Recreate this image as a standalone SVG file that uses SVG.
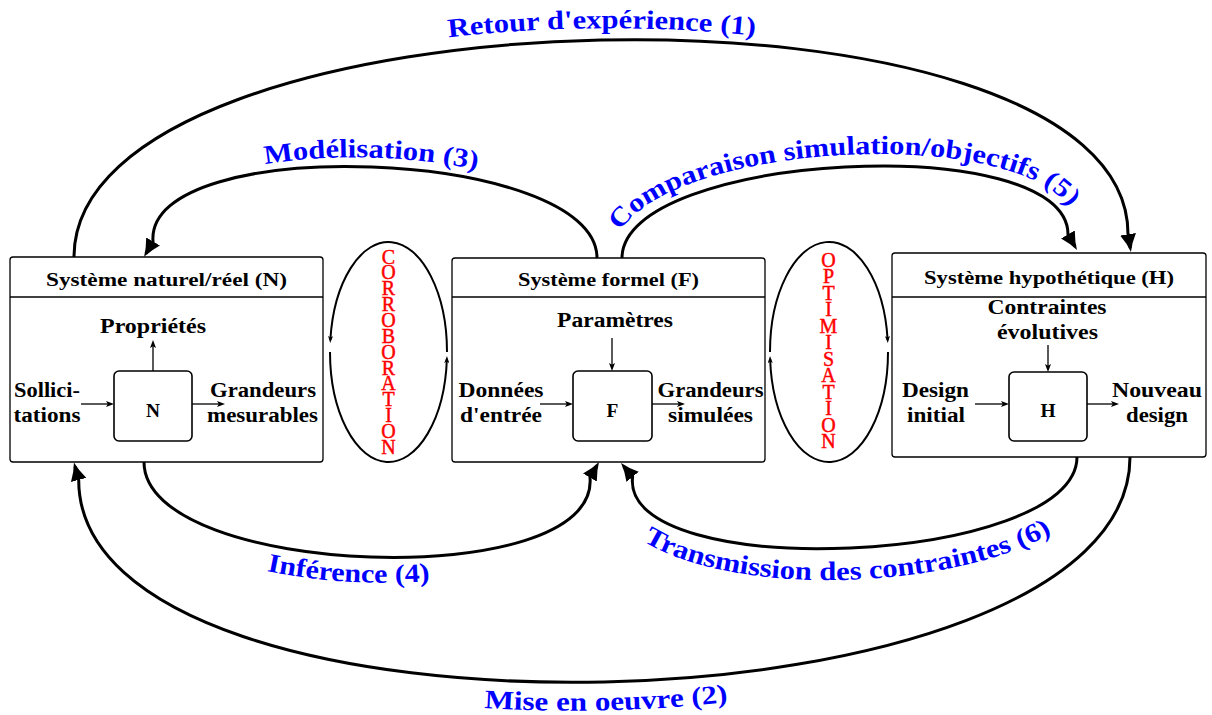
<svg xmlns="http://www.w3.org/2000/svg" width="1212" height="715" viewBox="0 0 1212 715">
<style>
.box{fill:#fff;stroke:#000;stroke-width:1.3}
.inner{fill:#fff;stroke:#000;stroke-width:1.6}
.sep{stroke:#000;stroke-width:1.3}
.t{font-family:"Liberation Serif","Times New Roman",serif;font-weight:bold;fill:#000;text-anchor:middle}
.title{font-size:19.4px}
.lbl{font-size:20.7px}
.blue{font-family:"Liberation Serif","Times New Roman",serif;font-weight:bold;font-size:26.5px;fill:#0000ff}
.red{font-family:"Liberation Serif","Times New Roman",serif;font-size:20px;fill:#ff0000;stroke:#ff0000;stroke-width:0.45;writing-mode:vertical-rl;text-orientation:upright}
.arc{fill:none;stroke:#000;stroke-width:3;marker-end:url(#big)}
.ell{fill:none;stroke:#000;stroke-width:2;marker-end:url(#mid)}
.thin{fill:none;stroke:#000;stroke-width:1.3;marker-end:url(#small)}
</style>
<defs>
<marker id="big" markerUnits="userSpaceOnUse" viewBox="0 0 18 16" markerWidth="18" markerHeight="16" refX="14" refY="8" orient="auto"><path d="M0,0 Q9,5.5 18,8 Q9,10.5 0,16 Z" fill="#000"/></marker>
<marker id="mid" markerUnits="userSpaceOnUse" viewBox="0 0 7 5" markerWidth="7" markerHeight="5" refX="4" refY="2.5" orient="auto"><path d="M0,0 L7,2.5 L0,5 L1.5,2.5 Z" fill="#000"/></marker>
<marker id="small" markerUnits="userSpaceOnUse" viewBox="0 0 8 6" markerWidth="8" markerHeight="6" refX="5" refY="3" orient="auto"><path d="M0,0 L8,3 L0,6 L1.8,3 Z" fill="#000"/></marker>
<path id="L1" d="M66,252 C66,-43 1139,-48 1139,247"/>
<path id="L3" d="M135,250 C135,117 607,134 607,258"/>
<path id="L5" d="M612,258 C612,136 1078,113 1078,234"/>
<path id="L4" d="M118,462 C118,614 626,629 616,470"/>
<path id="L6" d="M600,470 C590,630 1109,607 1109,457"/>
<path id="L2" d="M50,480 C50,803 1156,779 1156,457"/>
</defs>
<rect width="1212" height="715" fill="#fff"/>

<g id="node-N">
<rect class="box" x="10" y="257" width="313" height="205" rx="3"/>
<line class="sep" x1="10" y1="297" x2="323" y2="297"/>
<text class="t title" x="166.5" y="285.5" textLength="241" lengthAdjust="spacingAndGlyphs">Système naturel/réel (N)</text>
<rect class="inner" x="114" y="371" width="78" height="70" rx="5"/>
<text class="t title" x="153" y="417">N</text>
<text class="t lbl" x="153" y="333" textLength="106" lengthAdjust="spacingAndGlyphs">Propriétés</text>
<text class="t lbl" x="47" y="397" textLength="66" lengthAdjust="spacingAndGlyphs">Sollici-</text>
<text class="t lbl" x="47" y="422" textLength="67" lengthAdjust="spacingAndGlyphs">tations</text>
<text class="t lbl" x="263" y="397" textLength="106" lengthAdjust="spacingAndGlyphs">Grandeurs</text>
<text class="t lbl" x="262.5" y="422" textLength="111" lengthAdjust="spacingAndGlyphs">mesurables</text>
<path class="thin" d="M81,404 H111"/>
<path class="thin" d="M192,404 H222"/>
<path class="thin" d="M153,371 V343"/>
</g>

<g id="node-F">
<rect class="box" x="452" y="258" width="313" height="204" rx="3"/>
<line class="sep" x1="452" y1="297" x2="765" y2="297"/>
<text class="t title" x="608.5" y="285.5" textLength="181" lengthAdjust="spacingAndGlyphs">Système formel (F)</text>
<rect class="inner" x="573" y="371" width="79" height="70" rx="5"/>
<text class="t title" x="612.5" y="417">F</text>
<text class="t lbl" x="615" y="327" textLength="116" lengthAdjust="spacingAndGlyphs">Paramètres</text>
<text class="t lbl" x="501" y="397" textLength="85" lengthAdjust="spacingAndGlyphs">Données</text>
<text class="t lbl" x="501" y="422" textLength="82" lengthAdjust="spacingAndGlyphs">d'entrée</text>
<text class="t lbl" x="710.5" y="397" textLength="106" lengthAdjust="spacingAndGlyphs">Grandeurs</text>
<text class="t lbl" x="710.5" y="422" textLength="85" lengthAdjust="spacingAndGlyphs">simulées</text>
<path class="thin" d="M540,404 H570"/>
<path class="thin" d="M652,404 H682"/>
<path class="thin" d="M612,338 V368"/>
</g>

<g id="node-H">
<rect class="box" x="892" y="253" width="314" height="204" rx="3"/>
<line class="sep" x1="892" y1="297" x2="1206" y2="297"/>
<text class="t title" x="1049" y="284" textLength="250" lengthAdjust="spacingAndGlyphs">Système hypothétique (H)</text>
<rect class="inner" x="1009" y="372" width="78" height="69" rx="5"/>
<text class="t title" x="1048" y="417">H</text>
<text class="t lbl" x="1047" y="314" textLength="119" lengthAdjust="spacingAndGlyphs">Contraintes</text>
<text class="t lbl" x="1047.5" y="339" textLength="101" lengthAdjust="spacingAndGlyphs">évolutives</text>
<text class="t lbl" x="935.5" y="397" textLength="67" lengthAdjust="spacingAndGlyphs">Design</text>
<text class="t lbl" x="936" y="422" textLength="58" lengthAdjust="spacingAndGlyphs">initial</text>
<text class="t lbl" x="1157" y="397" textLength="90" lengthAdjust="spacingAndGlyphs">Nouveau</text>
<text class="t lbl" x="1157" y="422" textLength="62" lengthAdjust="spacingAndGlyphs">design</text>
<path class="thin" d="M975,404 H1006"/>
<path class="thin" d="M1087,404 H1116"/>
<path class="thin" d="M1048,345 V369"/>
</g>

<g id="connectors">
<path id="c1" class="arc" d="M74,257 C74,-17 1128,-40 1128,234 L1130.3,248.1"/>
<path id="c3" class="arc" d="M597,258 C597,147.7 145,131.1 153,241.4 L146,253.5"/>
<path id="c5" class="arc" d="M622,258 C622,152.4 1068,128.8 1068,234.4 L1075,246.5"/>
<path id="c4" class="arc" d="M144,462 C144,578.3 600,594 590,477.6 L597,465.5"/>
<path id="c6" class="arc" d="M1077,457 C1077,565 620,585 632.6,476.8 L623.6,466.1"/>
<path id="c2" class="arc" d="M1130,457 C1130,741.4 78.7,764.8 78.7,479.9 L75,466.4"/>
<path class="ell" d="M447,352 A58.5,110 0 0 0 330.35,340"/>
<path class="ell" d="M330,352 A58.5,110 0 0 0 446.88,359"/>
<path class="ell" d="M770,352 A59,110 0 0 1 887.65,340"/>
<path class="ell" d="M888,352 A59,110 0 0 1 770.12,359"/>
</g>

<g id="labels">
<text class="blue"><textPath href="#L1" startOffset="50%" text-anchor="middle" textLength="307" lengthAdjust="spacingAndGlyphs">Retour d'expérience (1)</textPath></text>
<text class="blue"><textPath href="#L3" startOffset="50%" text-anchor="middle" textLength="213" lengthAdjust="spacingAndGlyphs">Modélisation (3)</textPath></text>
<text class="blue"><textPath href="#L5" startOffset="50%" text-anchor="middle" textLength="481" lengthAdjust="spacingAndGlyphs">Comparaison simulation/objectifs (5)</textPath></text>
<text class="blue"><textPath href="#L4" startOffset="46.7%" text-anchor="middle" textLength="164" lengthAdjust="spacingAndGlyphs">Inférence (4)</textPath></text>
<text class="blue"><textPath href="#L6" startOffset="49%" text-anchor="middle" textLength="422" lengthAdjust="spacingAndGlyphs">Transmission des contraintes (6)</textPath></text>
<text class="blue"><textPath href="#L2" startOffset="50%" text-anchor="middle" textLength="244" lengthAdjust="spacingAndGlyphs">Mise en oeuvre (2)</textPath></text>
<text class="red" x="388.5" y="245.5" textLength="212.3" lengthAdjust="spacing">CORROBORATION</text>
<text class="red" x="828.5" y="249" textLength="203.4" lengthAdjust="spacing">OPTIMISATION</text>
</g>
</svg>
